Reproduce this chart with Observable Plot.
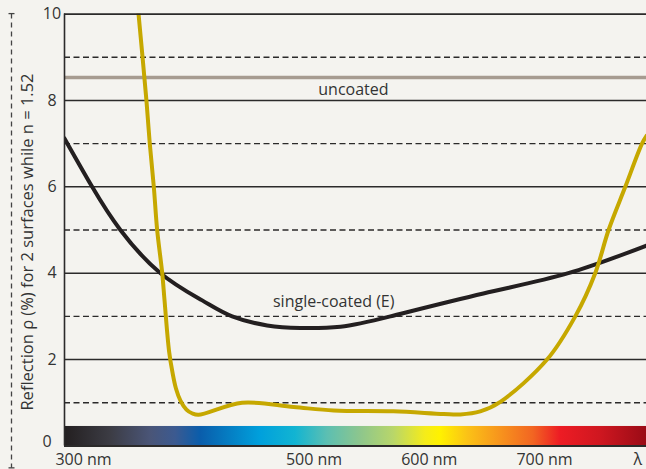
<!DOCTYPE html>
<html><head><meta charset="utf-8">
<script src="https://cdn.jsdelivr.net/npm/d3@7"></script>
<script src="https://cdn.jsdelivr.net/npm/@observablehq/plot@0.6"></script>
<style>
html,body{margin:0;padding:0;background:#f4f3ef;}
#chart{width:646px;height:469px;overflow:hidden;}
</style></head><body><div id="chart"></div>
<script>
// ---- data ----
const xDomain = [283.5, 788.5];           // wavelength (nm) visible in frame
const yDomain = [0, 10];                  // reflection %
const singleNm  = [283.5, 307.5, 332, 366.8, 403, 429, 459.3, 488, 523, 566.3, 647, 720.6, 788.5];
const singleVal = [7.12, 6.0, 5.0, 4.0, 3.37, 3.0, 2.79, 2.73, 2.76, 3.0, 3.53, 4.0, 4.64];
const multiNm  = [346.7, 354.6, 357.5, 361, 363.9, 368.3, 370.3, 374.2, 377.2, 380.2, 384.1, 389.3, 394.5, 399.7, 437.6, 482.4, 517.1, 568.9, 612.5, 627, 644.3, 661.7, 702.2, 726.7, 744, 755.6, 770.1, 784.6, 788.5];
const multiVal = [10.3, 8.0, 7.0, 6.0, 5.0, 4.0, 3.37, 2.2, 1.7, 1.33, 1.05, 0.84, 0.75, 0.72, 1.0, 0.9, 0.82, 0.8, 0.74, 0.73, 0.8, 1.02, 2.0, 3.0, 4.0, 5.0, 6.0, 7.0, 7.18];
const uncoatedValue = 8.53;
const solidGrid = [2, 4, 6, 8];
const dashedGrid = [1, 3, 5, 7, 9];
const yTicks = [0, 2, 4, 6, 8, 10];
const xTickValues = [300, 500, 600, 700, 781];
const xTickLabels = ["300 nm", "500 nm", "600 nm", "700 nm", "λ"];
const spectrumBar = [{y1: 0, y2: 0.45}];
const spectrumStopNm    = [283.5, 323.4, 358.1, 379.8, 401.5, 453.5, 483.9, 511.6, 540.2, 568.9, 596.6, 609.6, 633.0, 661.7, 690.3, 713.7, 748.4, 788.5];
const spectrumStopColor = ["#231f20","#3c3c44","#4a5577","#3c5a90","#0a5dab","#00a0dc","#12b4d2","#5cbfb2","#8dc68d","#b8d66a","#f5ec1a","#fff200","#fbc316","#f7941d","#f26522","#ed1c24","#cf1720","#9a0b16"];
const curveLabelText = ["uncoated", "single-coated (E)"];
const curveLabelNm   = [534.2, 517.1];
const curveLabelVal  = [8.25, 3.33];
const yLabel = "Reflection ρ (%) for 2 surfaces while n = 1.52";
const dimLine = {top: 10, bottom: -0.52};

// ---- tables ----
const single = singleNm.map((x, i) => ({x, y: singleVal[i]}));
const multi = multiNm.map((x, i) => ({x, y: multiVal[i]}));
const curveLabels = curveLabelText.map((t, i) => ({t, x: curveLabelNm[i], y: curveLabelVal[i]}));

const ink = "#2b2a2a";

function dimensionLine(index, scales) {
  const x = scales.x(xDomain[0]) - 52.5;
  const y0 = scales.y(dimLine.top), y1 = scales.y(dimLine.bottom);
  const g = d3.create("svg:g").attr("stroke", "#444").attr("stroke-width", 1.3).attr("fill", "none");
  g.append("line").attr("x1", x).attr("x2", x).attr("y1", y0).attr("y2", y1).attr("stroke-dasharray", "5,4");
  g.append("line").attr("x1", x - 3).attr("x2", x + 3).attr("y1", y0).attr("y2", y0);
  g.append("line").attr("x1", x - 3).attr("x2", x + 3).attr("y1", y1).attr("y2", y1);
  return g.node();
}

const plot = Plot.plot({
  width: 646, height: 469,
  marginLeft: 64, marginRight: 0, marginTop: 13.6, marginBottom: 23.6,
  style: {fontFamily: "'Open Sans', sans-serif", fontSize: "16px", background: "#f4f3ef", color: "#333"},
  x: {domain: xDomain, label: null},
  y: {domain: yDomain, label: null},
  marks: [
    Plot.axisX(xTickValues, {tickFormat: d => xTickLabels[xTickValues.indexOf(d)], tickSize: 0, tickPadding: 7.5, label: null}),
    Plot.axisY(yTicks.filter(d => d > 0), {tickSize: 0, tickPadding: 12.5, textAnchor: "middle", label: null}),
    Plot.axisY(yTicks.filter(d => d === 0), {tickSize: 0, tickPadding: 12.5, textAnchor: "middle", dx: -5, dy: -4, label: null}),
    Plot.ruleY(solidGrid, {stroke: ink, strokeWidth: 1.4}),
    Plot.ruleY(dashedGrid, {stroke: ink, strokeWidth: 1.4, strokeDasharray: "6,3.5"}),
    Plot.ruleY([uncoatedValue], {stroke: "#a69b90", strokeWidth: 3.6}),
    Plot.line(single, {x: "x", y: "y", curve: "natural", stroke: "#231f20", strokeWidth: 4, clip: true}),
    Plot.line(multi, {x: "x", y: "y", curve: "catmull-rom", stroke: "#c6a800", strokeWidth: 4, clip: true}),
    Plot.rect(spectrumBar, {x1: xDomain[0], x2: xDomain[1], y1: "y1", y2: "y2", fill: "url(#spectrum)"}),
    Plot.ruleY([yDomain[1]], {stroke: ink, strokeWidth: 1.6}),
    Plot.ruleY([yDomain[0]], {stroke: ink, strokeWidth: 2}),
    Plot.ruleX([xDomain[0]], {stroke: ink, strokeWidth: 1.6}),
    Plot.text(curveLabels, {x: "x", y: "y", text: "t", fill: "#333", fontSize: 16}),
    Plot.text([yLabel], {frameAnchor: "left", textAnchor: "middle", text: d => d, rotate: -90, dx: -36.6, dy: 12, fill: "#333", fontSize: 16.5}),
    dimensionLine
  ]
});

// spectrum gradient definition from the stop arrays
const defs = d3.select(plot).insert("defs", ":first-child");
const grad = defs.append("linearGradient").attr("id", "spectrum").attr("x1", "0").attr("x2", "1").attr("y1", "0").attr("y2", "0");
spectrumStopNm.forEach((nm, i) => {
  grad.append("stop")
    .attr("offset", (nm - xDomain[0]) / (xDomain[1] - xDomain[0]))
    .attr("stop-color", spectrumStopColor[i]);
});

document.getElementById("chart").appendChild(plot);
</script>
</body></html>
